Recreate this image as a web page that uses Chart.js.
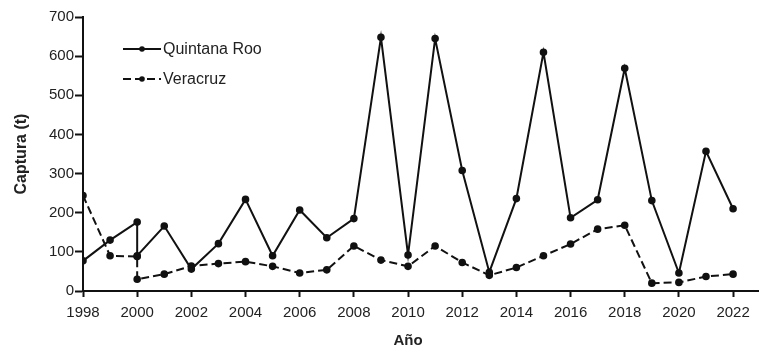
<!DOCTYPE html>
<html>
<head>
<meta charset="utf-8">
<script src="https://cdn.jsdelivr.net/npm/chart.js@4.4.0/dist/chart.umd.min.js"></script>
<style>
html,body{margin:0;padding:0;background:#fff;}
#wrap{width:764px;height:354px;position:relative;}
</style>
</head>
<body>
<div id="wrap"><canvas id="c" width="764" height="354"></canvas></div>
<script>
// Data (2000 appears twice in each series)
const qrYears = [1998,1999,2000,2000,2001,2002,2003,2004,2005,2006,2007,2008,2009,2010,2011,2012,2013,2014,2015,2016,2017,2018,2019,2020,2021,2022];
const qrValues = [77,130,176,90,166,56,121,234,90,207,136,185,648,92,645,308,48,236,610,187,233,569,231,46,357,210];
const vzYears = [1998,1999,2000,2000,2001,2002,2003,2004,2005,2006,2007,2008,2009,2010,2011,2012,2013,2014,2015,2016,2017,2018,2019,2020,2021,2022];
const vzValues = [244,90,88,30,43,64,70,75,63,46,54,115,79,63,115,73,40,60,90,120,158,168,20,22,37,43];
const xTickYears = [1998,2000,2002,2004,2006,2008,2010,2012,2014,2016,2018,2020,2022];
const yTicks = [0,100,200,300,400,500,600,700];
const seriesNames = ['Quintana Roo','Veracruz'];
const xTitle = 'Año';
const yTitle = 'Captura (t)';

const toPts = (xs, ys) => xs.map((x, i) => ({x: x, y: ys[i]}));

const legendPlugin = {
  id: 'customLegend',
  afterDatasetsDraw(chart) {
    const ctx = chart.ctx;
    const rows = [49, 79];
    chart.data.datasets.forEach((ds, i) => {
      const y = rows[i];
      ctx.save();
      ctx.strokeStyle = ds.borderColor;
      ctx.lineWidth = ds.borderWidth;
      ctx.setLineDash(ds.borderDash || []);
      ctx.beginPath();
      ctx.moveTo(123, y);
      ctx.lineTo(161, y);
      ctx.stroke();
      ctx.setLineDash([]);
      ctx.fillStyle = ds.pointBackgroundColor;
      ctx.beginPath();
      ctx.arc(142, y, ds.pointRadius, 0, Math.PI * 2);
      ctx.fill();
      ctx.fillStyle = '#222';
      ctx.font = '16px "Liberation Sans", Arial, sans-serif';
      ctx.textBaseline = 'middle';
      ctx.textAlign = 'left';
      ctx.fillText(ds.label, 163, y + 1);
      ctx.restore();
    });
    // x-axis title centred on the 1998-2022 span
    const xs = chart.scales.x;
    const cx = (xs.getPixelForValue(1998) + xs.getPixelForValue(2022)) / 2;
    ctx.save();
    ctx.fillStyle = '#222';
    ctx.font = 'bold 15px "Liberation Sans", Arial, sans-serif';
    ctx.textAlign = 'center';
    ctx.textBaseline = 'middle';
    ctx.fillText(xTitle, cx, 341);
    ctx.restore();
  }
};

new Chart(document.getElementById('c'), {
  type: 'line',
  data: {
    datasets: [
      {
        label: seriesNames[0],
        data: toPts(qrYears, qrValues),
        borderColor: '#111',
        backgroundColor: '#111',
        pointBackgroundColor: '#111',
        pointBorderColor: '#111',
        borderWidth: 2,
        pointRadius: 2.8,
        tension: 0,
        fill: false
      },
      {
        label: seriesNames[1],
        data: toPts(vzYears, vzValues),
        borderColor: '#111',
        backgroundColor: '#111',
        pointBackgroundColor: '#111',
        pointBorderColor: '#111',
        borderWidth: 2,
        borderDash: [8, 4],
        pointRadius: 2.8,
        tension: 0,
        fill: false
      }
    ]
  },
  options: {
    responsive: false,
    animation: false,
    events: [],
    layout: {padding: {left: 12, right: 0, top: 17, bottom: 0}},
    plugins: {legend: {display: false}, tooltip: {enabled: false}},
    scales: {
      x: {
        type: 'linear',
        min: 1998,
        max: 2022.92,
        afterBuildTicks(scale) {
          scale.ticks = xTickYears.map(v => ({value: v}));
        },
        afterFit(scale) { scale.height = 354 - 291; },
        ticks: {
          color: '#222',
          font: {family: '"Liberation Sans", Arial, sans-serif', size: 15},
          maxRotation: 0,
          autoSkip: false,
          padding: 7,
          callback: v => String(v)
        },
        grid: {drawOnChartArea: false, drawTicks: true, tickLength: 6, tickColor: '#111', tickWidth: 2},
        border: {display: true, color: '#111', width: 2}
      },
      y: {
        min: 0,
        max: 700,
        afterBuildTicks(scale) {
          scale.ticks = yTicks.map(v => ({value: v}));
        },
        afterFit(scale) { scale.width = 71; },
        ticks: {
          color: '#222',
          font: {family: '"Liberation Sans", Arial, sans-serif', size: 15},
          padding: 1
        },
        title: {
          display: true,
          text: yTitle,
          color: '#222',
          font: {family: '"Liberation Sans", Arial, sans-serif', size: 16, weight: 'bold'},
          padding: {top: 0, bottom: 8}
        },
        grid: {drawOnChartArea: false, drawTicks: true, tickLength: 8, tickColor: '#111', tickWidth: 2},
        border: {display: true, color: '#111', width: 2}
      }
    }
  },
  plugins: [legendPlugin]
});
</script>
</body>
</html>
